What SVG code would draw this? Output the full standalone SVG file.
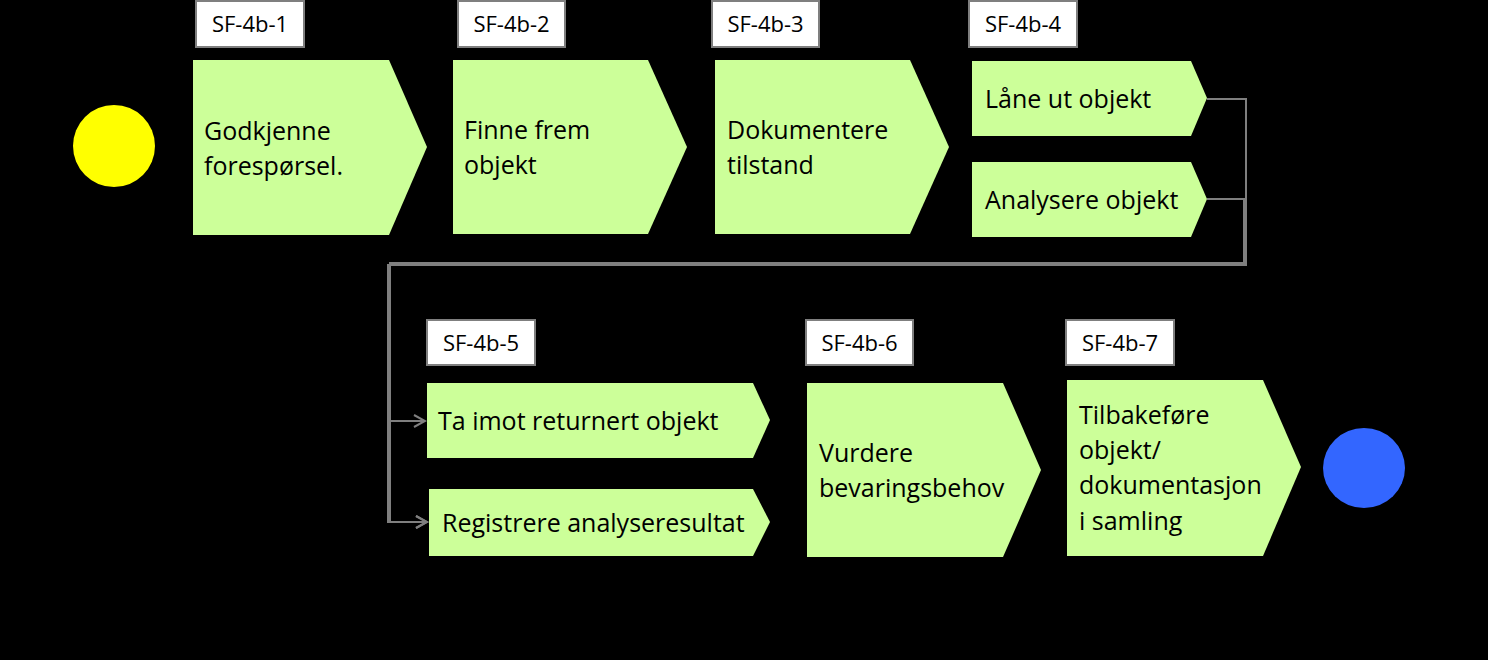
<svg xmlns="http://www.w3.org/2000/svg" width="1488" height="660" viewBox="0 0 1488 660">
<style>
.bg{fill:#000}
.step{fill:#ccff99}
.tag{fill:#fff;stroke:#7f7f7f;stroke-width:2}
.tt{font-family:"Open Sans","Liberation Sans",Arial,sans-serif;font-size:22px;fill:#000;text-anchor:middle}
.st{font-family:"Open Sans","Liberation Sans",Arial,sans-serif;font-size:25px;fill:#000}
.conn{fill:none;stroke:#7f7f7f;stroke-width:2}
</style>
<defs>
<marker id="arr" markerWidth="14" markerHeight="14" refX="12" refY="7" orient="auto" markerUnits="userSpaceOnUse">
<path d="M1,1 L12,7 L1,13" fill="none" stroke="#7f7f7f" stroke-width="2"/>
</marker>
</defs>
<rect class="bg" x="0" y="0" width="1488" height="660"/>
<g id="connectors">
<path class="conn" d="M1207,99 H1246 V265 H388 V421 H425" marker-end="url(#arr)"/>
<path class="conn" d="M1207,199 H1244 V263 H390 V522 H427" marker-end="url(#arr)"/>
<path class="conn" d="M388,265 V522 H427" marker-end="url(#arr)"/>
</g>
<g id="start"><ellipse cx="114" cy="146" rx="41" ry="41" fill="#ffff00"/></g>
<g id="end"><ellipse cx="1364" cy="468" rx="41" ry="40" fill="#3366ff"/></g>
<g id="sf-4b-1">
<rect class="tag" x="196" y="1" width="108" height="46"/>
<text class="tt" x="250" y="32">SF-4b-1</text>
<path class="step" d="M193,60 H389 L427,147 L389,235 H193 Z"/>
<text class="st" x="204" y="140">Godkjenne</text>
<text class="st" x="204" y="175">forespørsel.</text>
</g>
<g id="sf-4b-2">
<rect class="tag" x="458" y="1" width="107" height="46"/>
<text class="tt" x="511.5" y="32">SF-4b-2</text>
<path class="step" d="M453,60 H648 L687,147 L648,234 H453 Z"/>
<text class="st" x="464" y="139">Finne frem</text>
<text class="st" x="464" y="174">objekt</text>
</g>
<g id="sf-4b-3">
<rect class="tag" x="712" y="1" width="107" height="46"/>
<text class="tt" x="765.5" y="32">SF-4b-3</text>
<path class="step" d="M715,60 H910 L949,147 L910,234 H715 Z"/>
<text class="st" x="727" y="139">Dokumentere</text>
<text class="st" x="727" y="174">tilstand</text>
</g>
<g id="sf-4b-4">
<rect class="tag" x="969" y="1" width="108" height="46"/>
<text class="tt" x="1023" y="32">SF-4b-4</text>
</g>
<g id="lane-ut">
<path class="step" d="M972,61 H1191 L1207,98 L1191,136 H972 Z"/>
<text class="st" x="985" y="108">Låne ut objekt</text>
</g>
<g id="analysere">
<path class="step" d="M972,162 H1191 L1207,199 L1191,237 H972 Z"/>
<text class="st" x="985" y="209">Analysere objekt</text>
</g>
<g id="sf-4b-5">
<rect class="tag" x="427" y="320" width="108" height="45"/>
<text class="tt" x="481" y="351">SF-4b-5</text>
</g>
<g id="ta-imot">
<path class="step" d="M427,383 H753 L770,420 L753,458 H427 Z"/>
<text class="st" x="438" y="430">Ta imot returnert objekt</text>
</g>
<g id="registrere">
<path class="step" d="M429,489 H753 L770,522 L753,556 H429 Z"/>
<text class="st" x="442" y="532">Registrere analyseresultat</text>
</g>
<g id="sf-4b-6">
<rect class="tag" x="806" y="320" width="107" height="45"/>
<text class="tt" x="859.5" y="351">SF-4b-6</text>
<path class="step" d="M807,383 H1003 L1041,470 L1003,557 H807 Z"/>
<text class="st" x="819" y="462">Vurdere</text>
<text class="st" x="819" y="497">bevaringsbehov</text>
</g>
<g id="sf-4b-7">
<rect class="tag" x="1066" y="320" width="108" height="45"/>
<text class="tt" x="1120" y="351">SF-4b-7</text>
<path class="step" d="M1067,380 H1263 L1301,467 L1263,556 H1067 Z"/>
<text class="st" x="1079" y="424">Tilbakeføre</text>
<text class="st" x="1079" y="459">objekt/</text>
<text class="st" x="1079" y="494">dokumentasjon</text>
<text class="st" x="1079" y="530">i samling</text>
</g>
</svg>
